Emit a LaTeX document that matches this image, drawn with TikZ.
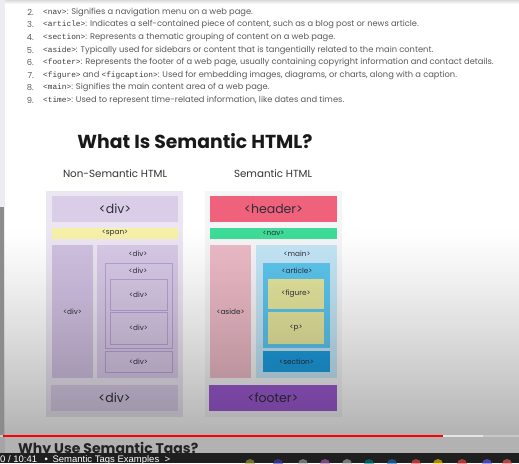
\documentclass[tikz,border=0pt]{standalone}
\usepackage{fontspec}
\setmainfont{Poppins}
\newfontfamily\monof{Liberation Mono}
\newfontfamily\uifont{Liberation Sans}
\definecolor{txtgray}{HTML}{5A5A5A}
\definecolor{tagc}{HTML}{3A3A3A}
\definecolor{gutter}{HTML}{EEEBF3}
\definecolor{lpanel}{HTML}{ECE6F2}
\definecolor{rpanel}{HTML}{F5F4F6}
\definecolor{ldiv}{HTML}{DACDE8}
\definecolor{lcol}{HTML}{D1C1E2}
\definecolor{rcol}{HTML}{D8CAE7}
\definecolor{lborder}{HTML}{B8A0D8}
\definecolor{spanc}{HTML}{F7F0A8}
\definecolor{headerc}{HTML}{F0617B}
\definecolor{navc}{HTML}{3EDC98}
\definecolor{asidec}{HTML}{ECBAC7}
\definecolor{mainc}{HTML}{C4E6F7}
\definecolor{articlec}{HTML}{5CC6EE}
\definecolor{figc}{HTML}{E6E69E}
\definecolor{sectionc}{HTML}{1E9DE0}
\definecolor{footerc}{HTML}{9D5AD2}
\definecolor{labc}{HTML}{2E2E3A}
\tikzset{
  bx/.style={draw=none, inner sep=0pt, outer sep=0pt, anchor=north west},
  num/.style={anchor=east, inner sep=0pt, text=txtgray, font=\fontsize{8.3}{9}\selectfont},
  item/.style={anchor=west, inner sep=0pt, text=txtgray, font=\fontsize{8.3}{9}\selectfont},
  biglab/.style={inner sep=0pt, text=labc, font=\fontsize{12.5}{14}\selectfont},
  smlab/.style={inner sep=0pt, text=labc, font=\fontsize{7.3}{9}\selectfont},
}
\newcommand\tg[1]{{\monof\fontsize{7.8}{9}\selectfont\color{tagc}#1}}
\begin{document}
\begin{tikzpicture}[x=1pt,y=-1pt]
\useasboundingbox (0,0) rectangle (519,463);
\clip (0,0) rectangle (519,463);
\fill[white] (0,0) rectangle (519,463);
\fill[top color=black!14, bottom color=white] (0,0) rectangle (519,4);
\fill[gutter] (0,0) rectangle (5,463);
% list
\node[num] (n2) at (34,12.3) {2.};
\node[item] (l2) at (43,12.3) {\tg{<nav>}: Signifies a navigation menu on a web page.};
\node[num] (n3) at (34,24.9) {3.};
\node[item] (l3) at (43,24.9) {\tg{<article>}: Indicates a self-contained piece of content, such as a blog post or news article.};
\node[num] (n4) at (34,37.5) {4.};
\node[item] (l4) at (43,37.5) {\tg{<section>}: Represents a thematic grouping of content on a web page.};
\node[num] (n5) at (34,50.1) {5.};
\node[item] (l5) at (43,50.1) {\tg{<aside>}: Typically used for sidebars or content that is tangentially related to the main content.};
\node[num] (n6) at (34,62.7) {6.};
\node[item] (l6) at (43,62.7) {\tg{<footer>}: Represents the footer of a web page, usually containing copyright information and contact details.};
\node[num] (n7) at (34,75.3) {7.};
\node[item] (l7) at (43,75.3) {\tg{<figure>} and \tg{<figcaption>}: Used for embedding images, diagrams, or charts, along with a caption.};
\node[num] (n8) at (34,87.9) {8.};
\node[item] (l8) at (43,87.9) {\tg{<main>}: Signifies the main content area of a web page.};
\node[num] (n9) at (34,100.5) {9.};
\node[item] (l9) at (43,100.5) {\tg{<time>}: Used to represent time-related information, like dates and times.};
% title
\node[inner sep=0pt, font=\fontsize{18.8}{22}\bfseries\selectfont, text=black!90] (title) at (195,141) {What Is Semantic HTML?};
\node[inner sep=0pt, font=\fontsize{10.3}{12}\selectfont, text=black!80] (stl) at (115,174) {Non-Semantic HTML};
\node[inner sep=0pt, font=\fontsize{10.3}{12}\selectfont, text=black!80] (str) at (273,174) {Semantic HTML};
% left panel
\node[bx, fill=lpanel, minimum width=137pt, minimum height=226pt] (lp) at (46,191) {};
\node[bx, fill=ldiv, minimum width=126pt, minimum height=26pt] (ltop) at (52,196) {};
\node[biglab] (ltopl) at (ltop.center) {<div>};
\node[bx, fill=spanc, minimum width=126pt, minimum height=11pt] (lspan) at (52,228) {};
\node[smlab] (lspanl) at (lspan.center) {<span>};
\node[bx, fill=lcol, minimum width=41pt, minimum height=133pt] (lleft) at (52,245) {};
\node[smlab] (lleftl) at (lleft.center) {<div>};
\node[bx, fill=rcol, minimum width=81pt, minimum height=133pt] (lright) at (97,245) {};
\node[smlab] (lrightl) at (138,253.5) {<div>};
\node[bx, fill=rcol, draw=lborder, line width=0.8pt, minimum width=67pt, minimum height=85pt] (linner) at (105,263) {};
\node[smlab] (linnerl) at (138,270.5) {<div>};
\node[bx, fill=rcol, draw=lborder, line width=0.8pt, minimum width=57pt, minimum height=31pt] (lda) at (110,279) {};
\node[smlab] (ldal) at (lda.center) {<div>};
\node[bx, fill=rcol, draw=lborder, line width=0.8pt, minimum width=57pt, minimum height=32pt] (ldb) at (110,312) {};
\node[smlab] (ldbl) at (ldb.center) {<div>};
\node[bx, fill=rcol, draw=lborder, line width=0.8pt, minimum width=67pt, minimum height=21pt] (ldc) at (105,351) {};
\node[smlab] (ldcl) at (ldc.center) {<div>};
\node[bx, fill=ldiv, minimum width=127pt, minimum height=26pt] (lbot) at (51,385) {};
\node[biglab] (lbotl) at (lbot.center) {<div>};
% right panel
\node[bx, fill=rpanel, minimum width=137pt, minimum height=226pt] (rp) at (205,191) {};
\node[bx, fill=headerc, minimum width=127pt, minimum height=26pt] (hdr) at (210,196) {};
\node[biglab] (hdrl) at (hdr.center) {<header>};
\node[bx, fill=navc, minimum width=127pt, minimum height=11pt] (nav) at (210,228) {};
\node[smlab] (navl) at (nav.center) {<nav>};
\node[bx, fill=asidec, minimum width=41pt, minimum height=133pt] (aside) at (210,245) {};
\node[smlab] (asidel) at (aside.center) {<aside>};
\node[bx, fill=mainc, minimum width=81pt, minimum height=133pt] (mainb) at (256,245) {};
\node[smlab] (mainl) at (297,254) {<main>};
\node[bx, fill=articlec, minimum width=67pt, minimum height=85pt] (art) at (263,263) {};
\node[smlab] (artl) at (297,270.5) {<article>};
\node[bx, fill=figc, minimum width=56pt, minimum height=30pt] (fig) at (268,279) {};
\node[smlab] (figl) at (fig.center) {<figure>};
\node[bx, fill=figc, minimum width=56pt, minimum height=32pt] (pbox) at (268,312) {};
\node[smlab] (pboxl) at (pbox.center) {<p>};
\node[bx, fill=sectionc, minimum width=67pt, minimum height=21pt] (sec) at (263,351) {};
\node[smlab] (secl) at (sec.center) {<section>};
\node[bx, fill=footerc, minimum width=128pt, minimum height=26pt] (ftr) at (209,385) {};
\node[biglab] (ftrl) at (ftr.center) {<footer>};
% next heading
\node[anchor=base west, inner sep=0pt, text depth=0pt, font=\fontsize{14}{16}\bfseries\selectfont, text=black!80] (why) at (18,453) {Why Use Semantic Tags?};
% video dimming (strips of growing opacity)
\foreach \i in {0,...,104}{
  \pgfmathsetmacro\op{0.30*(\i/104)^1.2}
  \fill[black, opacity=\op] (0,{226+2*\i}) rectangle (519,{228+2*\i});
}
\fill[black, opacity=0.30] (0,436) rectangle (519,463);
\fill[black!45] (0,207) rectangle (4,436);
% progress bar
\draw[line width=2pt, black!22] (0,435.5) -- (519,435.5);
\draw[line width=2pt, black!10] (443,435.5) -- (483,435.5);
\draw[line width=2pt, red] (3,435.5) -- (443,435.5);
% bottom bar
\fill[black!88] (0,453) rectangle (519,463);
\node[anchor=base west, inner sep=0pt, text height=6.5pt, text=white, font=\uifont\fontsize{9.5}{11}\selectfont] (time) at (0,462) {0 / 10:41 \enspace•\enspace Semantic Tags Examples \ \textgreater};
\foreach \xx/\cc in {250/yellow!60!black, 278/blue!50!gray, 303/gray!70, 325/violet!60, 347/gray!60, 369/teal, 392/cyan!50!blue, 416/red!70, 438/yellow!70!orange, 462/red!70, 487/blue!60, 507/red!60}
  \fill[\cc, opacity=0.6] (\xx,464) circle (5pt);
\end{tikzpicture}
\end{document}
